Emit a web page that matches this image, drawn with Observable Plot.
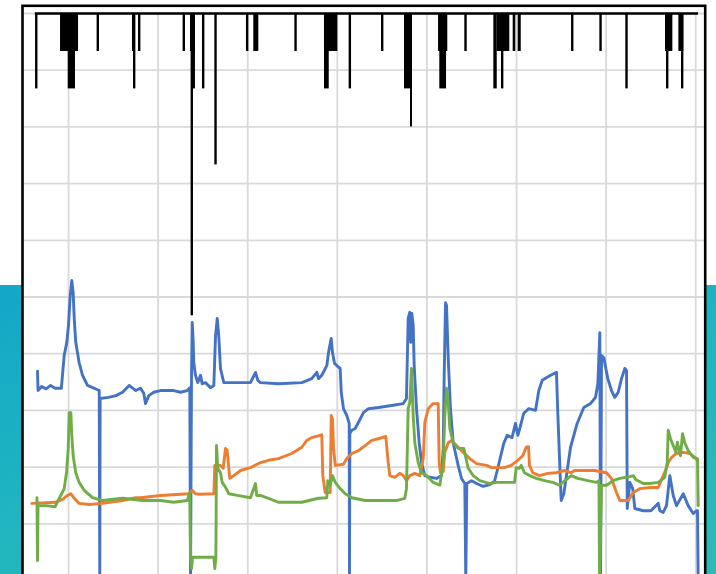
<!DOCTYPE html>
<html><head><meta charset="utf-8">
<script src="https://cdn.jsdelivr.net/npm/d3@7"></script>
<script src="https://cdn.jsdelivr.net/npm/@observablehq/plot@0.6"></script>
<style>
html,body{margin:0;padding:0;overflow:hidden;background:#fff;width:716px;height:574px}
#bg{position:absolute;left:0;top:285px;width:716px;height:289px;background:linear-gradient(165deg,#14a7c7 0%,#20b5c0 50%,#2bbcb6 100%)}
#chart{position:absolute;left:0;top:0}
</style></head><body><div id="bg"></div><div id="chart"></div>
<script>
const xTicks = [10,20,30,40,50,60,70,80];
const yTicks = [10,20,30,40,50,60,70,80,90,100];

const blueSeries = [[6.54,36.9],[6.60,33.5],[7.0,34.2],[7.5,33.8],[8.0,34.4],[8.5,33.9],[9.2,33.9],[9.33,36.2],[9.52,39.7],[9.81,42.0],[10.0,45.0],[10.19,50.3],[10.37,52.9],[10.52,50.8],[10.64,46.2],[10.81,42.0],[11.19,38.4],[11.56,36.2],[12.12,34.4],[12.87,33.9],[13.43,33.5],[13.49,0],[13.53,32.1],[14.46,32.3],[15.3,32.6],[16.03,33.2],[16.77,34.4],[17.51,33.5],[18.04,33.9],[18.40,33.0],[18.59,31.2],[18.96,32.6],[19.52,33.2],[20.27,33.5],[21.75,33.5],[22.50,33.2],[23.25,33.5],[23.54,34.0],[23.62,0],[23.73,36.2],[23.81,45.5],[23.92,42.0],[23.98,38.4],[24.17,36.2],[24.43,34.9],[24.73,36.2],[24.92,34.7],[25.29,34.9],[25.85,34.0],[26.22,34.4],[26.41,43.2],[26.60,46.2],[26.77,43.2],[26.96,37.4],[27.33,34.9],[28.08,34.9],[30.31,34.9],[30.87,36.7],[31.13,35.3],[31.43,34.9],[33.44,34.7],[36.04,34.9],[37.15,35.6],[37.71,36.7],[37.90,35.6],[38.27,36.2],[38.83,37.9],[39.02,40.2],[39.32,42.7],[39.46,40.2],[39.69,38.3],[39.94,37.9],[40.32,37.4],[40.44,33.2],[40.69,30.3],[41.06,29.1],[41.33,27.7],[41.36,0],[41.40,25.9],[41.62,26.5],[42.00,26.8],[42.37,27.9],[42.92,29.6],[43.48,30.3],[44.60,30.5],[46.24,30.9],[47.36,31.2],[47.72,32.1],[47.91,46.2],[48.09,47.3],[48.20,42.0],[48.32,47.1],[48.47,45.0],[48.58,37.9],[48.84,30.3],[49.14,24.3],[49.40,20.8],[49.77,18.5],[50.32,18.2],[51.07,18.0],[51.63,18.5],[51.82,23.3],[51.93,36.2],[52.08,49.0],[52.19,48.5],[52.38,39.2],[52.63,30.3],[52.93,24.3],[53.49,20.3],[53.86,18.0],[54.23,17.1],[54.34,0],[54.45,17.1],[54.98,17.6],[55.54,17.1],[56.28,16.6],[57.02,16.9],[57.55,17.5],[57.85,19.4],[58.58,24.2],[58.96,25.6],[59.5,25.2],[59.89,27.7],[60.15,25.6],[60.4,27.0],[60.81,29.5],[61.37,30.3],[62.12,30.0],[62.49,33.5],[62.87,35.3],[63.80,36.2],[64.46,36.7],[64.61,29.5],[64.83,20.3],[64.99,14.1],[65.28,15.3],[65.66,19.4],[66.03,23.5],[66.77,27.7],[67.51,30.5],[68.26,31.2],[68.82,32.3],[69.08,34.7],[69.30,43.7],[69.38,0],[69.49,39.7],[69.74,39.3],[70.19,35.6],[70.60,33.5],[70.97,32.3],[71.35,33.2],[71.72,35.6],[72.09,37.4],[72.28,37.0],[72.36,12.7],[72.65,17.3],[72.97,16.2],[73.21,12.7],[74.14,12.3],[75.0,12.3],[75.82,13.6],[76.0,12.3],[76.37,12.0],[76.74,13.2],[77.11,18.5],[77.49,15.0],[77.86,13.2],[78.61,15.3],[79.16,13.2],[79.72,11.8],[80.09,12.3],[80.20,12.3],[80.28,0]];

const orangeSeries = [[5.90,13.6],[8.58,13.8],[9.33,14.3],[9.89,15.0],[10.26,15.3],[10.64,14.5],[11.19,13.6],[12.31,13.4],[13.79,13.6],[16.03,14.1],[17.51,14.6],[18.04,14.6],[20.27,15.0],[23.43,15.3],[23.81,15.9],[24.17,15.3],[24.73,15.2],[26.22,15.3],[26.33,20.3],[26.96,20.3],[27.27,19.8],[27.52,23.3],[27.70,23.0],[28.00,18.0],[28.45,18.5],[29.20,19.4],[30.31,19.9],[31.43,20.8],[32.32,21.2],[33.44,21.5],[34.92,22.4],[36.04,23.5],[36.60,24.7],[37.15,25.2],[38.27,25.7],[38.38,18.5],[38.65,15.5],[39.21,15.5],[39.32,29.1],[39.46,28.5],[39.58,23.3],[39.77,20.3],[40.69,20.5],[41.06,21.5],[41.62,22.4],[42.37,22.9],[43.11,23.8],[43.85,24.7],[44.60,25.0],[45.41,25.4],[45.68,20.8],[45.86,18.5],[46.42,18.2],[46.98,18.9],[47.36,18.5],[47.72,17.6],[48.09,18.5],[48.65,18.9],[49.21,18.5],[49.59,21.5],[49.77,27.9],[50.15,30.3],[50.70,31.2],[51.26,31.2],[51.37,20.8],[51.52,19.0],[51.82,19.2],[52.00,22.6],[52.38,24.3],[52.75,24.7],[53.30,23.8],[54.05,22.6],[54.79,21.5],[55.54,20.6],[56.65,20.3],[57.21,19.9],[58.66,19.9],[59.41,20.3],[60.15,21.2],[60.70,22.0],[61.08,23.5],[61.34,23.6],[61.45,20.3],[61.82,19.0],[62.57,18.5],[63.49,18.9],[64.43,19.0],[65.36,19.4],[66.10,19.0],[66.47,19.4],[68.71,19.4],[70.05,19.0],[70.60,18.0],[71.16,15.5],[71.53,14.1],[72.47,14.1],[73.03,15.5],[73.76,16.2],[74.88,16.4],[75.82,16.4],[76.37,18.5],[76.74,19.8],[76.93,20.8],[77.30,21.7],[77.86,22.4],[78.61,22.6],[79.34,22.4],[79.90,21.7],[80.17,21.2]];

const greenSeries = [[6.48,14.6],[6.54,3.5],[6.60,13.2],[7.5,13.2],[8.5,13.0],[9.14,15.0],[9.52,16.2],[9.78,19.0],[9.97,23.3],[10.08,29.6],[10.26,29.6],[10.37,25.6],[10.52,22.0],[10.81,19.0],[11.19,17.3],[11.75,15.9],[12.68,14.6],[13.79,14.1],[16.03,14.5],[18.26,14.1],[20.27,14.1],[21.75,13.8],[23.25,14.1],[23.54,15.5],[23.62,4.1],[23.73,2.1],[23.85,4.1],[25.0,4.1],[26.22,4.1],[26.33,2.1],[26.45,4.1],[26.52,23.8],[26.66,19.8],[26.96,19.0],[27.15,17.3],[27.5,16.5],[27.89,15.3],[28.83,15.0],[30.31,14.6],[30.87,17.1],[31.0,15.0],[31.43,15.0],[33.44,13.8],[36.04,13.8],[37.90,14.5],[38.83,14.6],[38.94,17.6],[39.21,16.8],[39.46,18.5],[39.77,17.3],[40.32,16.2],[40.88,15.3],[41.62,14.6],[43.11,14.1],[44.60,14.1],[46.61,14.1],[47.53,14.5],[47.72,16.2],[47.91,30.3],[48.09,31.4],[48.28,37.4],[48.47,29.1],[48.65,24.3],[49.03,20.8],[49.40,19.0],[49.96,18.5],[50.70,17.3],[51.44,16.8],[51.82,20.8],[52.00,29.1],[52.19,33.9],[52.38,31.4],[52.56,26.8],[52.93,24.3],[53.49,23.3],[54.12,23.3],[54.34,21.7],[54.61,19.8],[55.17,18.5],[55.91,17.6],[57.02,17.1],[57.77,17.3],[58.66,17.3],[59.78,17.3],[59.97,19.9],[60.33,19.8],[60.52,20.3],[60.89,19.0],[61.5,18.5],[62.20,18.0],[63.13,17.6],[64.05,17.3],[64.80,16.8],[66.10,18.5],[66.84,18.0],[67.96,17.6],[68.90,17.3],[69.20,17.6],[69.27,0],[69.49,16.8],[70.05,16.8],[70.79,17.6],[71.53,18.0],[72.28,18.2],[73.03,18.5],[73.3,17.8],[74.14,17.1],[74.9,17.1],[75.82,17.3],[76.55,18.2],[76.82,20.8],[76.93,26.5],[77.19,25.0],[77.49,23.8],[77.78,22.6],[77.95,24.4],[78.30,22.0],[78.53,25.9],[78.78,24.3],[79.16,22.9],[79.72,21.7],[80.20,21.5],[80.28,13.2]];

// black event series: baseline value 100, dips down
const blackSpan = [6.3, 80.31];
const blackLevel = 100;
const blackTicks = [[6.40,86.7],[13.27,93.3],[17.33,86.7],[17.89,93.3],[22.87,93.3],[23.76,46.7],[23.98,86.7],[25.03,86.7],[26.41,73.3],[29.94,93.3],[35.34,93.3],[41.40,86.7],[45.01,93.3],[54.31,93.3],[58.40,86.7],[66.22,93.3],[69.38,93.3],[72.28,86.7],[76.82,86.7],[78.49,86.7]];
const blackBlocks = [[9.11,11.12,93.3],[9.97,10.78,86.7],[17.14,17.44,93.3],[23.62,24.17,93.3],[30.68,31.24,93.3],[38.57,40.06,93.3],[38.57,39.10,86.7],[47.50,48.39,86.7],[48.17,48.39,80.0],[51.30,52.33,93.3],[51.44,52.19,86.7],[57.47,57.85,86.7],[57.85,59.25,93.3],[59.63,59.92,93.3],[60.19,60.53,93.3],[76.63,77.45,93.3],[78.12,78.67,93.3]];

const xDomain = [4.866, 81.06];
const yDomain = [-3.53, 101.36];
const rows = s => s.map(([x, v]) => ({x, v}));

const chart = Plot.plot({
  width: 716, height: 600,
  marginLeft: 22, marginRight: 11.3, marginTop: 5.3, marginBottom: 0,
  style: {background: "transparent", overflow: "visible"},
  x: {domain: xDomain, axis: null},
  y: {domain: yDomain, axis: null},
  marks: [
    Plot.frame({fill: "white", stroke: "none"}),
    Plot.ruleY(yTicks, {stroke: "#d9d9d9", strokeWidth: 1.8}),
    Plot.ruleX(xTicks, {y1: yDomain[0], y2: blackLevel, stroke: "#d9d9d9", strokeWidth: 1.8}),
    Plot.line(rows(blueSeries), {x: "x", y: "v", stroke: "#4472c4", strokeWidth: 2.9, strokeLinejoin: "round"}),
    Plot.line(rows(orangeSeries), {x: "x", y: "v", stroke: "#ed7d31", strokeWidth: 2.9, strokeLinejoin: "round"}),
    Plot.line(rows(greenSeries), {x: "x", y: "v", stroke: "#70ad47", strokeWidth: 2.9, strokeLinejoin: "round"}),
    Plot.rect(blackBlocks, {x1: d => d[0], x2: d => d[1], y1: blackLevel, y2: d => d[2], fill: "black"}),
    Plot.ruleX(blackTicks, {x: d => d[0], y1: blackLevel, y2: d => d[1], stroke: "black", strokeWidth: 2.4}),
    Plot.ruleY([blackLevel], {x1: blackSpan[0], x2: blackSpan[1], stroke: "black", strokeWidth: 2.6}),
    Plot.frame({stroke: "black", strokeWidth: 2.6})
  ]
});
document.getElementById("chart").appendChild(chart);
</script></body></html>
